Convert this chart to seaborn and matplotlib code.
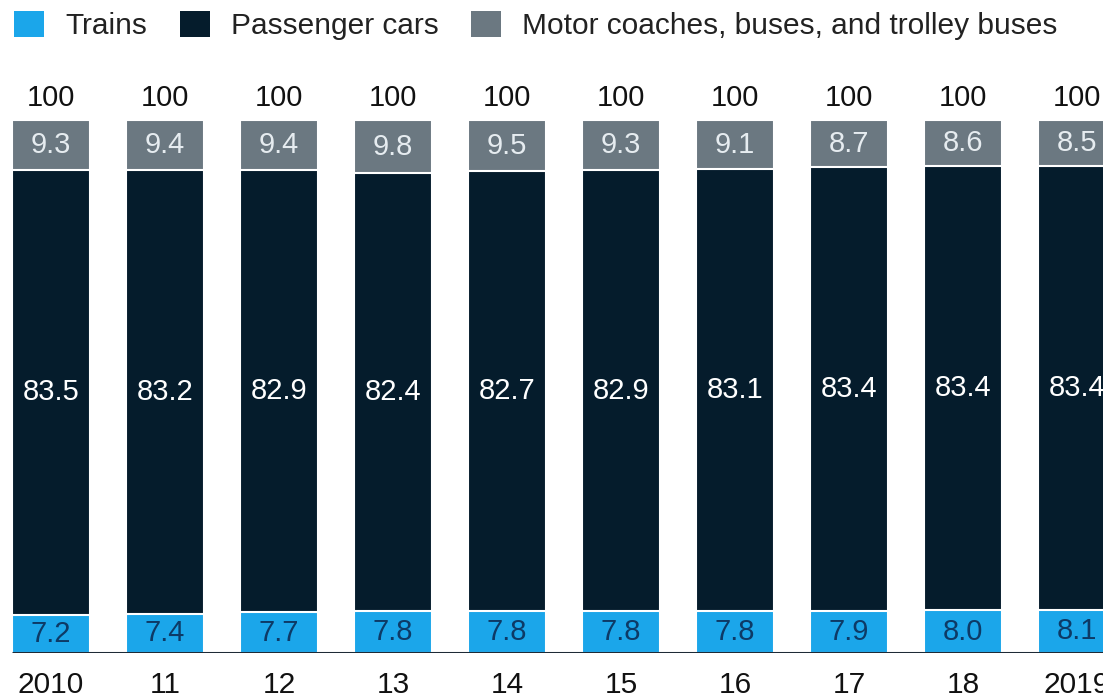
import matplotlib
matplotlib.use("Agg")
import matplotlib.pyplot as plt
from matplotlib.patches import Patch
import seaborn as sns
import pandas as pd

# data (share of passenger-km, %)
years = ["2010", "11", "12", "13", "14", "15", "16", "17", "18", "2019"]
trains = [7.2, 7.4, 7.7, 7.8, 7.8, 7.8, 7.8, 7.9, 8.0, 8.1]
cars = [83.5, 83.2, 82.9, 82.4, 82.7, 82.9, 83.1, 83.4, 83.4, 83.4]
buses = [9.3, 9.4, 9.4, 9.8, 9.5, 9.3, 9.1, 8.7, 8.6, 8.5]
totals = [100] * len(years)

series_names = ["Trains", "Passenger cars", "Motor coaches, buses, and trolley buses"]
c_train = "#1ba6ea"
c_car = "#051c2c"
c_bus = "#6b7881"

sns.set_theme(style="white")
plt.rcParams["font.family"] = ["Liberation Sans", "DejaVu Sans"]

df = pd.DataFrame({"year": years, "trains": trains, "cars": cars, "buses": buses})
df["lower2"] = df["trains"] + df["cars"]
df["total"] = df["lower2"] + df["buses"]

fig = plt.figure(figsize=(11.03, 6.99), dpi=100)
ax = fig.add_axes([0, 0.0658, 1, 0.848])

bw = 0.685
# stacked by overlaying cumulative heights, tallest first
sns.barplot(data=df, x="year", y="total", color=c_bus, width=bw, saturation=1,
            edgecolor="white", linewidth=1.5, ax=ax)
sns.barplot(data=df, x="year", y="lower2", color=c_car, width=bw, saturation=1,
            edgecolor="white", linewidth=1.5, ax=ax)
sns.barplot(data=df, x="year", y="trains", color=c_train, width=bw, saturation=1,
            edgecolor="white", linewidth=1.5, ax=ax)

ax.set_xlim(-0.447, 9.228)
ax.set_ylim(0, 111.3)
ax.set_xlabel("")
ax.set_ylabel("")
ax.set_yticks([])
ax.tick_params(axis="x", length=0, pad=13, labelsize=21.5, labelcolor="#111111")
for s in ax.spines.values():
    s.set_visible(False)
ax.hlines(0, -bw / 2, 9.6, color="#1e2a36", linewidth=2.2, zorder=5)

fs = 21
for i in range(len(years)):
    ax.text(i, trains[i] / 2, f"{trains[i]:.1f}", ha="center", va="center",
            fontsize=fs, color="#0d3a66")
    ax.text(i, trains[i] + cars[i] / 2, f"{cars[i]:.1f}", ha="center", va="center",
            fontsize=fs, color="white")
    ax.text(i, trains[i] + cars[i] + buses[i] / 2, f"{buses[i]:.1f}", ha="center",
            va="center", fontsize=fs, color="#e6ecf0")
    ax.annotate(f"{totals[i]}", (i, df["total"][i]), xytext=(0, 6),
                textcoords="offset points", ha="center", va="bottom",
                fontsize=fs, color="#111111")

handles = [Patch(facecolor=c, edgecolor="none") for c in (c_train, c_car, c_bus)]
fig.legend(handles, series_names, loc="upper left", bbox_to_anchor=(-0.006, 1.014),
           ncol=3, frameon=False, fontsize=21.5, handlelength=1.0, handleheight=0.95,
           handletextpad=0.7, columnspacing=1.1, borderaxespad=0.3,
           labelcolor="#222222")

fig.savefig("out.png", dpi=100)
